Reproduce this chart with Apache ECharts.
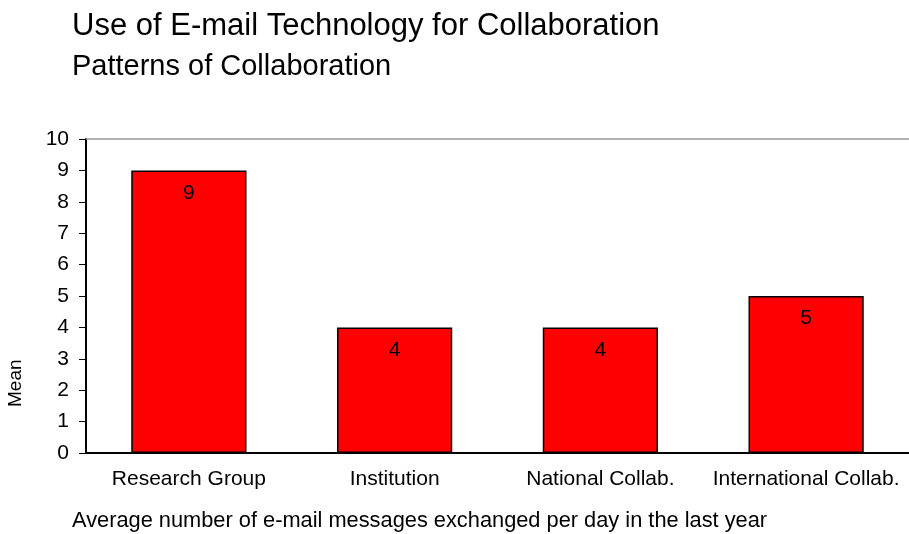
<!DOCTYPE html>
<html>
<head>
<meta charset="utf-8">
<script src="https://cdn.jsdelivr.net/npm/echarts@6/dist/echarts.min.js"></script>
<style>
  html, body { margin: 0; padding: 0; background: #fff; }
  #chart { width: 909px; height: 534px; }
</style>
</head>
<body>
<div id="chart"></div>
<script>
// Mean e-mail messages per day, by collaboration pattern
const categories = ['Research Group', 'Institution', 'National Collab.', 'International Collab.'];
const meanValues = [9, 4, 4, 5];
const yTicks = [0, 1, 2, 3, 4, 5, 6, 7, 8, 9, 10];

const FONT = '"Liberation Sans", Arial, sans-serif';
const chart = echarts.init(document.getElementById('chart'));

chart.setOption({
  animation: false,
  backgroundColor: '#ffffff',
  title: [
    {
      text: 'Use of E-mail Technology for Collaboration',
      left: 67, top: 6,
      textStyle: { fontFamily: FONT, fontSize: 31, fontWeight: 'normal', color: '#000' }
    },
    {
      text: 'Patterns of Collaboration',
      left: 67, top: 47,
      textStyle: { fontFamily: FONT, fontSize: 29, fontWeight: 'normal', color: '#000' }
    }
  ],
  grid: { left: 86, top: 139, width: 832, height: 314, containLabel: false },
  xAxis: {
    type: 'category',
    data: categories,
    axisLine: { lineStyle: { color: '#000', width: 2 } },
    axisTick: { show: false },
    axisLabel: { fontFamily: FONT, fontSize: 21, color: '#000', margin: 16, interval: 0 }
  },
  yAxis: {
    type: 'value',
    min: yTicks[0], max: yTicks[yTicks.length - 1], interval: 1,
    axisLine: { show: true, lineStyle: { color: '#000', width: 2 } },
    axisTick: { show: true, length: 7, lineStyle: { color: '#000', width: 1 } },
    axisLabel: { fontFamily: FONT, fontSize: 21, color: '#000', margin: 17 },
    splitLine: { show: false }
  },
  series: [{
    type: 'bar',
    data: meanValues,
    barWidth: '56%',
    itemStyle: { color: '#ff0000', borderColor: '#000', borderWidth: 1.5 },
    label: {
      show: true, position: 'insideTop', distance: 12,
      fontFamily: FONT, fontSize: 21, color: '#000'
    },
    markLine: {
      silent: true, symbol: 'none',
      label: { show: false },
      lineStyle: { color: '#999', type: 'solid', width: 1.5 },
      data: [{ yAxis: yTicks[yTicks.length - 1] }]
    }
  }],
  graphic: [
    {
      type: 'text', left: 72, top: 510,
      style: { text: 'Average number of e-mail messages exchanged per day in the last year',
               font: '21.8px ' + FONT, fill: '#000' }
    },
    {
      type: 'text', x: 6, y: 407, rotation: Math.PI / 2,
      style: { text: 'Mean', font: '19px ' + FONT, fill: '#000' }
    }
  ]
});
</script>
</body>
</html>
